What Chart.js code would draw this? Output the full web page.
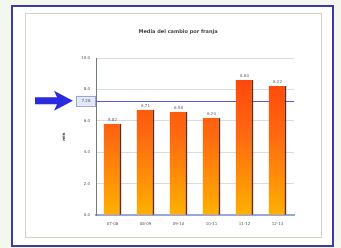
<!DOCTYPE html>
<html><head><meta charset="utf-8">
<script src="https://cdn.jsdelivr.net/npm/chart.js@4/dist/chart.umd.min.js"></script>
<style>html,body{margin:0;padding:0;background:#f4f7ee;}#wrap{width:341px;height:248px;position:relative;}</style>
</head><body><div id="wrap"><canvas id="c" width="341" height="248"></canvas></div>
<script>
const categories = ["07-08", "08-09", "09-10", "10-11", "11-12", "12-13"];
const values = [5.82, 6.71, 6.58, 6.20, 8.60, 8.22];
const referenceValue = 7.28;
const yTicks = [0, 2, 4, 6, 8, 10];
const chartTitle = "Media del cambio por franja";
const yTitle = "min";

const framePlugin = {
  id: 'frame',
  beforeDraw(chart) {
    const ctx = chart.ctx;
    ctx.save();
    ctx.fillStyle = '#f4f7ee';
    ctx.fillRect(0, 0, 341, 248);
    ctx.fillStyle = '#ffffff';
    ctx.fillRect(12, 6, 321, 240);
    ctx.strokeStyle = '#3b3ba8';
    ctx.lineWidth = 2;
    ctx.strokeRect(12, 6, 321, 240);
    ctx.strokeStyle = '#cfd6c4';
    ctx.lineWidth = 1;
    ctx.strokeRect(25.5, 13.5, 296, 224);
    ctx.restore();
  },
  beforeDatasetsDraw(chart) {
    const ctx = chart.ctx;
    const y = chart.scales.y.getPixelForValue(referenceValue);
    const area = chart.chartArea;
    ctx.save();
    ctx.strokeStyle = '#5a5ad8';
    ctx.lineWidth = 1;
    ctx.beginPath();
    ctx.moveTo(area.left, Math.round(y) + 0.5);
    ctx.lineTo(area.right, Math.round(y) + 0.5);
    ctx.stroke();
    ctx.restore();
  },
  afterDraw(chart) {
    const ctx = chart.ctx;
    const y = chart.scales.y.getPixelForValue(referenceValue);
    ctx.save();
    // highlight box
    ctx.fillStyle = 'rgba(200,210,240,0.5)';
    ctx.strokeStyle = '#9aa6d8';
    ctx.fillRect(76, y - 5, 20, 10);
    ctx.strokeRect(76.5, Math.round(y - 5) + 0.5, 19, 10);
    ctx.fillStyle = '#555';
    ctx.font = '4px DejaVu Sans';
    ctx.textAlign = 'center';
    ctx.textBaseline = 'middle';
    ctx.fillText(referenceValue.toFixed(2), 86, y);
    // arrow
    ctx.fillStyle = '#2a2ae0';
    ctx.beginPath();
    ctx.moveTo(35, y - 3.5);
    ctx.lineTo(57, y - 3.5);
    ctx.lineTo(54, y - 10);
    ctx.lineTo(73, y);
    ctx.lineTo(54, y + 10);
    ctx.lineTo(57, y + 3.5);
    ctx.lineTo(35, y + 3.5);
    ctx.closePath();
    ctx.fill();
    // data labels
    const meta = chart.getDatasetMeta(0);
    ctx.fillStyle = '#666';
    ctx.font = '4px DejaVu Sans';
    ctx.textAlign = 'center';
    ctx.textBaseline = 'bottom';
    meta.data.forEach((bar, i) => {
      ctx.fillText(values[i].toFixed(2), bar.x, bar.y - 2);
    });
    ctx.restore();
  }
};

const ctx = document.getElementById('c').getContext('2d');
new Chart(ctx, {
  type: 'bar',
  data: {
    labels: categories,
    datasets: [{
      data: values,
      backgroundColor(context) {
        const chart = context.chart;
        const a = chart.chartArea;
        if (!a) return '#ff6600';
        const g = chart.ctx.createLinearGradient(0, a.top, 0, a.bottom);
        g.addColorStop(0, '#ff3a0a');
        g.addColorStop(0.5, '#ff6a10');
        g.addColorStop(1, '#ffb000');
        return g;
      },
      borderColor: '#6a2a10',
      borderWidth: {left: 0, top: 0, bottom: 0, right: 2},
      borderSkipped: false,
      categoryPercentage: 0.54,
      barPercentage: 1.0
    }]
  },
  options: {
    responsive: false,
    animation: false,
    devicePixelRatio: 1,
    layout: {padding: {left: 62, right: 47, top: 29, bottom: 16}},
    plugins: {
      legend: {display: false},
      tooltip: {enabled: false},
      title: {
        display: true,
        text: chartTitle,
        color: '#444',
        font: {family: 'DejaVu Sans', size: 5, weight: 'bold'},
        padding: {top: 0, bottom: 23}
      }
    },
    scales: {
      x: {
        grid: {display: false, drawTicks: false},
        border: {color: '#9aa6d8', width: 2},
        ticks: {color: '#555', font: {family: 'DejaVu Sans', size: 4}, padding: 6}
      },
      y: {
        min: 0, max: 10,
        afterBuildTicks(scale) { scale.ticks = yTicks.map(v => ({value: v})); },
        afterFit(scale) { scale.width = 34; },
        grid: {color: '#d8dce8', drawTicks: false},
        border: {color: '#6f7f70', width: 1},
        ticks: {color: '#555', font: {family: 'DejaVu Sans', size: 4}, padding: 6,
          callback: v => Number(v).toFixed(1)},
        title: {display: true, text: yTitle, color: '#444', font: {family: 'DejaVu Sans', size: 4, weight: 'bold'}, padding: 0}
      }
    }
  },
  plugins: [framePlugin]
});
</script>
</body></html>
